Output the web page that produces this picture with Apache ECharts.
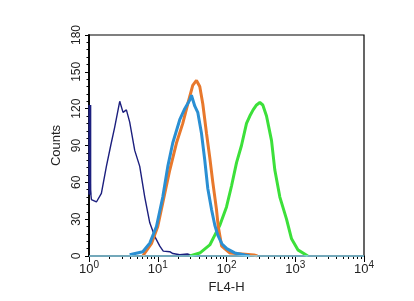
<!DOCTYPE html>
<html><head><meta charset="utf-8">
<script src="https://cdn.jsdelivr.net/npm/echarts@6/dist/echarts.min.js"></script>
<style>html,body{margin:0;padding:0;background:#fff}#c{width:414px;height:301px}</style>
</head><body><div id="c"></div>
<script>
// x values are log10(FL4-H)
const navyX = [0.012, 0.02, 0.035, 0.108, 0.18, 0.253, 0.316, 0.374, 0.447, 0.495, 0.544, 0.592, 0.665, 0.738, 0.811, 0.884, 0.956, 1.03, 1.08, 1.175, 1.22, 1.32, 1.43, 1.5, 1.61];
const navyY = [123, 54, 46, 44, 51, 73, 90, 105, 126, 117, 119, 109, 86, 73, 48, 27, 16, 8, 4, 3.5, 2, 1, 1.6, 0.5, 0];
const navyFirstX = [0.012, 0.012];
const navyFirstY = [50, 123];
const greenX = [1.466, 1.611, 1.757, 1.83, 1.903, 2.0, 2.073, 2.146, 2.218, 2.291, 2.339, 2.387, 2.437, 2.485, 2.528, 2.582, 2.655, 2.703, 2.776, 2.873, 2.946, 3.038, 3.183];
const greenY = [0, 2.4, 9, 17, 25, 40, 57, 76, 90, 108, 114, 119, 123, 125, 123, 114, 94, 70, 48, 30, 14, 5, 0];
const orangeX = [0.782, 0.908, 1.0, 1.102, 1.175, 1.272, 1.364, 1.437, 1.509, 1.563, 1.611, 1.655, 1.709, 1.757, 1.801, 1.854, 1.88, 1.93, 2.05, 2.4, 2.45];
const orangeY = [0, 10, 24, 51, 70, 92, 108, 124, 139, 143, 138, 124, 100, 80, 60, 38, 24, 8, 2.4, 0.8, 0];
const blueX = [0.592, 0.782, 0.884, 0.981, 1.073, 1.146, 1.218, 1.32, 1.393, 1.466, 1.49, 1.539, 1.582, 1.636, 1.684, 1.728, 1.782, 1.83, 1.873, 1.932, 2.004, 2.12, 2.266, 2.339];
const blueY = [1, 3.5, 10.5, 24, 48, 73, 92, 111, 120, 127, 131, 122, 117, 100, 78, 55, 38, 25, 17, 10, 6, 2.5, 0.8, 0];
const baseX = [0, 4];
const baseY = [0, 0];
const mantissas = [2, 3, 4, 5, 6, 7, 8, 9];

const pairs = (xs, ys) => xs.map((x, i) => [x, ys[i]]);
const minorVals = [];
for (let d = 0; d < 4; d++) mantissas.forEach(m => minorVals.push(d + Math.log10(m)));

const font = 'Liberation Sans, Arial, sans-serif';
const chart = echarts.init(document.getElementById('c'));
chart.setOption({
  animation: false,
  grid: { left: 89, right: 50, top: 35, bottom: 45, show: true, borderColor: '#000', borderWidth: 1.2, backgroundColor: 'transparent' },
  xAxis: [{
    type: 'value', min: 0, max: 4, interval: 1, position: 'bottom',
    name: 'FL4-H', nameLocation: 'middle', nameGap: 25,
    nameTextStyle: { color: '#222', fontSize: 13, fontFamily: font },
    axisLine: { show: true, onZero: false, lineStyle: { color: '#000', width: 1.5 } },
    axisTick: { show: true, length: 6, inside: false, lineStyle: { color: '#000', width: 1 } },
    splitLine: { show: false },
    axisLabel: {
      show: true, margin: 4, color: '#222', fontFamily: font,
      formatter: v => '{b|10}{s|' + v + '}',
      rich: { b: { fontSize: 13, lineHeight: 18, fontFamily: font, color: '#222' }, s: { fontSize: 10, lineHeight: 10, verticalAlign: 'top', fontFamily: font, color: '#222' } }
    }
  }, {
    type: 'value', min: 0, max: 4, position: 'bottom',
    axisLine: { show: false, onZero: false },
    axisTick: { show: true, length: 3, customValues: minorVals, lineStyle: { color: '#000', width: 1 } },
    axisLabel: { show: false },
    splitLine: { show: false }
  }],
  yAxis: {
    type: 'value', min: 0, max: 180, interval: 30,
    name: 'Counts', nameLocation: 'middle', nameGap: 23, nameRotate: 90,
    nameTextStyle: { color: '#222', fontSize: 13, fontFamily: font },
    axisLine: { show: true, lineStyle: { color: '#000', width: 1.8 } },
    axisTick: { show: true, length: 4, lineStyle: { color: '#000', width: 1 } },
    minorTick: { show: true, splitNumber: 5, length: 2.5, lineStyle: { color: '#000', width: 1 } },
    splitLine: { show: false },
    axisLabel: { rotate: 90, margin: 6, color: '#222', fontSize: 12, fontFamily: font }
  },
  series: [
    { type: 'line', data: pairs(baseX, baseY), showSymbol: false, clip: false, lineStyle: { color: '#8fd6ee', width: 1.5 }, z: 6 },
    { type: 'line', data: pairs(navyFirstX, navyFirstY), showSymbol: false, clip: false, lineStyle: { color: '#1c1f7e', width: 3 }, z: 7 },
    { type: 'line', data: pairs(navyX, navyY), showSymbol: false, lineStyle: { color: '#1c1f7e', width: 1.4 }, z: 2 },
    { type: 'line', data: pairs(greenX, greenY), showSymbol: false, lineStyle: { color: '#3ce03a', width: 3 }, z: 3 },
    { type: 'line', data: pairs(orangeX, orangeY), showSymbol: false, lineStyle: { color: '#e8782c', width: 3 }, z: 4 },
    { type: 'line', data: pairs(blueX, blueY), showSymbol: false, lineStyle: { color: '#2a8fd3', width: 3 }, z: 5 }
  ]
});
</script></body></html>
